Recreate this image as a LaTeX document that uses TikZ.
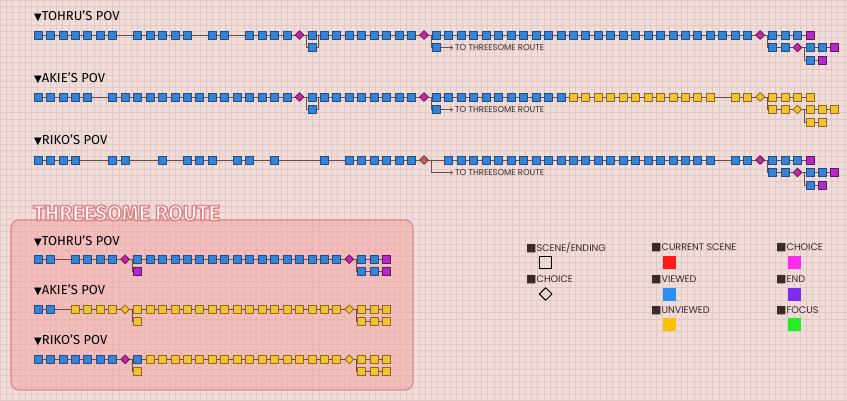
\documentclass[tikz,border=0pt]{standalone}
\usepackage{fontspec}
\setmainfont{Fira Sans}
\newfontfamily\legfont{Poppins}
\newfontfamily\symfont{DejaVu Sans}
\usetikzlibrary{shapes.geometric,arrows.meta}

\pgfdeclarelayer{grid}
\pgfdeclarelayer{links}
\pgfsetlayers{grid,links,main}

\definecolor{sfondo}{HTML}{F0DDD9}
\definecolor{griglia}{HTML}{E2C8C4}
\definecolor{blu}{HTML}{3683D6}
\definecolor{blubordo}{HTML}{1E4E86}
\definecolor{giallo}{HTML}{F3C334}
\definecolor{giallobordo}{HTML}{8C6A18}
\definecolor{viola}{HTML}{B02CC4}
\definecolor{violabordo}{HTML}{5E1468}
\definecolor{scelta}{HTML}{C02AA6}
\definecolor{sceltabordo}{HTML}{6A145A}
\definecolor{rosso}{HTML}{C0605E}
\definecolor{rossobordo}{HTML}{7A3434}
\definecolor{linea}{HTML}{6B4A48}
\definecolor{boxfill}{HTML}{F3A0A0}
\definecolor{boxedge}{HTML}{E0878A}
\definecolor{legtxt}{HTML}{3A2A2A}
\definecolor{legred}{HTML}{FF1A1A}
\definecolor{legblue}{HTML}{2B8EF2}
\definecolor{legyellow}{HTML}{FFC107}
\definecolor{legmag}{HTML}{FF2BEE}
\definecolor{legviolet}{HTML}{7B2BF0}
\definecolor{leggreen}{HTML}{22EE22}

\begin{document}
\begin{tikzpicture}[
    x=1pt, y=-1pt,
    line cap=round,
    line join=round,
    scene/.style={rectangle, minimum size=8pt, inner sep=0pt, line width=0.8pt},
    viewed/.style={scene, fill=blu, draw=blubordo},
    unviewed/.style={scene, fill=giallo, draw=giallobordo},
    endnode/.style={scene, fill=viola, draw=violabordo},
    choicev/.style={diamond, minimum size=9pt, inner sep=0pt, line width=0.8pt, fill=scelta, draw=sceltabordo},
    choiceu/.style={choicev, fill=giallo, draw=giallobordo},
    choicec/.style={choicev, fill=rosso, draw=rossobordo},
    link/.style={draw=linea, line width=0.7pt},
    pov/.style={anchor=west, inner sep=0pt, text=black, font=\fontsize{13}{13}\selectfont},
    nota/.style={anchor=west, inner sep=0pt, inner xsep=2pt, text=legtxt, font=\legfont\fontsize{8.4}{8.4}\selectfont},
    legtext/.style={anchor=west, inner sep=0pt, text=legtxt, font=\legfont\fontsize{9.6}{9.6}\selectfont},
    legbox/.style={rectangle, minimum size=13pt, inner sep=0pt}
]
\useasboundingbox (0,0) rectangle (847,400);

% Sfondo a quadretti e riquadro
\begin{pgfonlayer}{grid}
\fill[sfondo] (0,0) rectangle (847,400);
\foreach \g in {0,6.25,...,847}
    \draw[griglia, line width=0.4pt] (\g,0) -- (\g,400);
\foreach \g in {0,6.25,...,400}
    \draw[griglia, line width=0.4pt] (0,\g) -- (847,\g);
\draw[boxedge, line width=1.2pt, fill=boxfill, fill opacity=.5, rounded corners=8pt]
    (11,220) rectangle (413,390);
\end{pgfonlayer}

% Titoli
\node[pov] (to-tit) at (34,16) {{\symfont\fontsize{10}{10}\selectfont ▼}TOHRU'S POV};
\node[pov] (ak-tit) at (34,78) {{\symfont\fontsize{10}{10}\selectfont ▼}AKIE'S POV};
\node[pov] (ri-tit) at (34,140) {{\symfont\fontsize{10}{10}\selectfont ▼}RIKO'S POV};
\node[anchor=west, inner sep=0pt, text=white, font=\bfseries\fontsize{21.5}{21.5}\selectfont]
    (route-tit) at (33,213)
    {\special{pdf:literal direct 0.878 0.529 0.541 RG 1.6 w 2 Tr}THREESOME ROUTE\special{pdf:literal direct 0 Tr}};
\node[pov] (tt-tit) at (34,241.5) {{\symfont\fontsize{10}{10}\selectfont ▼}TOHRU'S POV};
\node[pov] (ta-tit) at (34,290) {{\symfont\fontsize{10}{10}\selectfont ▼}AKIE'S POV};
\node[pov] (tr-tit) at (34,340) {{\symfont\fontsize{10}{10}\selectfont ▼}RIKO'S POV};

% Tohru
\foreach \a/\b/\s in {0/6/viewed, 8/12/viewed, 14/15/viewed, 17/20/viewed, 21/21/choicev,
    22/30/viewed, 31/31/choicev, 32/57/viewed, 58/58/choicev, 59/61/viewed, 62/62/endnode}
    \foreach \i in {\a,...,\b}
        \node[\s] (to-0-\i) at (38+12.45*\i, 35) {};
\foreach \a/\b/\s in {22/22/viewed, 32/32/viewed, 59/60/viewed, 61/61/choicev,
    62/63/viewed, 64/64/endnode}
    \foreach \i in {\a,...,\b}
        \node[\s] (to-1-\i) at (38+12.45*\i, 47.5) {};
\foreach \a/\b/\s in {62/62/viewed, 63/63/endnode}
    \foreach \i in {\a,...,\b}
        \node[\s] (to-2-\i) at (38+12.45*\i, 60) {};
\node[nota] (to-note) at (453,47.5) {TO THREESOME ROUTE};

% Akie
\foreach \a/\b/\s in {0/4/viewed, 6/20/viewed, 21/21/choicev, 22/30/viewed, 31/31/choicev,
    32/42/viewed, 43/54/unviewed, 56/57/unviewed, 58/58/choiceu, 59/62/unviewed}
    \foreach \i in {\a,...,\b}
        \node[\s] (ak-0-\i) at (38+12.45*\i, 97) {};
\foreach \a/\b/\s in {22/22/viewed, 32/32/viewed, 59/60/unviewed, 61/61/choiceu,
    62/64/unviewed}
    \foreach \i in {\a,...,\b}
        \node[\s] (ak-1-\i) at (38+12.45*\i, 109.5) {};
\foreach \i in {62,63}
    \node[unviewed] (ak-2-\i) at (38+12.45*\i, 122) {};
\node[nota] (ak-note) at (453,109.5) {TO THREESOME ROUTE};

% Riko
\foreach \a/\b/\s in {0/3/viewed, 6/7/viewed, 10/10/viewed, 12/14/viewed, 16/17/viewed,
    19/19/viewed, 23/23/viewed, 25/30/viewed, 31/31/choicec, 33/54/viewed, 56/57/viewed,
    58/58/choicev, 59/61/viewed, 62/62/endnode}
    \foreach \i in {\a,...,\b}
        \node[\s] (ri-0-\i) at (38+12.45*\i, 160) {};
\foreach \a/\b/\s in {59/60/viewed, 61/61/choicev, 62/63/viewed, 64/64/endnode}
    \foreach \i in {\a,...,\b}
        \node[\s] (ri-1-\i) at (38+12.45*\i, 172.5) {};
\foreach \a/\b/\s in {62/62/viewed, 63/63/endnode}
    \foreach \i in {\a,...,\b}
        \node[\s] (ri-2-\i) at (38+12.45*\i, 185) {};
\node[nota] (ri-note) at (453,172.5) {TO THREESOME ROUTE};

% Threesome route
\foreach \a/\b/\s in {0/1/viewed, 3/6/viewed, 7/7/choicev, 8/24/viewed, 25/25/choicev,
    26/27/viewed, 28/28/endnode}
    \foreach \i in {\a,...,\b}
        \node[\s] (tt-0-\i) at (38+12.45*\i, 259.3) {};
\foreach \a/\b/\s in {8/8/endnode, 26/27/viewed, 28/28/endnode}
    \foreach \i in {\a,...,\b}
        \node[\s] (tt-1-\i) at (38+12.45*\i, 271.7) {};

\foreach \a/\b/\s in {0/1/viewed, 3/6/unviewed, 7/7/choiceu, 8/24/unviewed, 25/25/choiceu,
    26/28/unviewed}
    \foreach \i in {\a,...,\b}
        \node[\s] (ta-0-\i) at (38+12.45*\i, 309.3) {};
\foreach \i in {8,26,27,28}
    \node[unviewed] (ta-1-\i) at (38+12.45*\i, 321.7) {};

\foreach \a/\b/\s in {0/6/viewed, 7/7/choicev, 8/8/viewed, 9/24/unviewed, 25/25/choiceu,
    26/28/unviewed}
    \foreach \i in {\a,...,\b}
        \node[\s] (tr-0-\i) at (38+12.45*\i, 359.3) {};
\foreach \i in {8,26,27,28}
    \node[unviewed] (tr-1-\i) at (38+12.45*\i, 371.7) {};

% Collegamenti
\begin{pgfonlayer}{links}
\foreach \r in {to,ak,ri}{
    \draw[link] (\r-0-0) -- (\r-0-62);
    \draw[link] (\r-1-59) -- (\r-1-64);
    \draw[link] (\r-2-62) -- (\r-2-63);
    \draw[link] (\r-0-58.east) -- ++(2,0) |- (\r-1-59.west);
    \draw[link] (\r-1-61.east) -- ++(2,0) |- (\r-2-62.west);
}
\foreach \r in {to,ak}{
    \draw[link] (\r-0-21.east) -- ++(2,0) |- (\r-1-22.west);
    \draw[link] (\r-1-22.east) -- ++(2,0) |- (\r-0-23.west);
    \draw[link] (\r-0-31.east) -- ++(2,0) |- (\r-1-32.west);
    \draw[link, -{Straight Barb[length=2pt]}] (\r-1-32) -- (\r-note);
}
\draw[link, -{Straight Barb[length=2pt]}] (ri-0-31.east) -- ++(2,0) |- (ri-note.west);
\foreach \r in {tt,ta,tr}{
    \draw[link] (\r-0-0) -- (\r-0-28);
    \draw[link] (\r-1-26) -- (\r-1-28);
    \draw[link] (\r-0-7.east) -- ++(2,0) |- (\r-1-8.west);
    \draw[link] (\r-0-25.east) -- ++(2,0) |- (\r-1-26.west);
}
\end{pgfonlayer}

% Legenda
\node[legtext] (leg-scene) at (526,247.7) {{\symfont\fontsize{11}{11}\selectfont ■}SCENE/ENDING};
\node[legbox, draw=black, line width=1pt, minimum size=12pt] (leg-sq) at (545.5,262.5) {};
\node[legtext] (leg-choice) at (526,279.3) {{\symfont\fontsize{11}{11}\selectfont ■}CHOICE};
\node[diamond, draw=black, line width=1pt, minimum size=13pt, inner sep=0pt] (leg-dia) at (545.7,294) {};

\node[legtext] (leg-cur) at (651,247.7) {{\symfont\fontsize{11}{11}\selectfont ■}CURRENT SCENE};
\node[legbox, fill=legred] (leg-red) at (669.5,262.5) {};
\node[legtext] (leg-view) at (651,279.3) {{\symfont\fontsize{11}{11}\selectfont ■}VIEWED};
\node[legbox, fill=legblue] (leg-blue) at (669.5,294) {};
\node[legtext] (leg-unview) at (651,311) {{\symfont\fontsize{11}{11}\selectfont ■}UNVIEWED};
\node[legbox, fill=legyellow] (leg-yellow) at (669.5,324.5) {};

\node[legtext] (leg-ch) at (776,247.7) {{\symfont\fontsize{11}{11}\selectfont ■}CHOICE};
\node[legbox, fill=legmag] (leg-mag) at (794.5,262.5) {};
\node[legtext] (leg-end) at (776,279.3) {{\symfont\fontsize{11}{11}\selectfont ■}END};
\node[legbox, fill=legviolet] (leg-violet) at (794.5,294) {};
\node[legtext] (leg-focus) at (776,311) {{\symfont\fontsize{11}{11}\selectfont ■}FOCUS};
\node[legbox, fill=leggreen] (leg-green) at (794.5,324.5) {};

\end{tikzpicture}
\end{document}
